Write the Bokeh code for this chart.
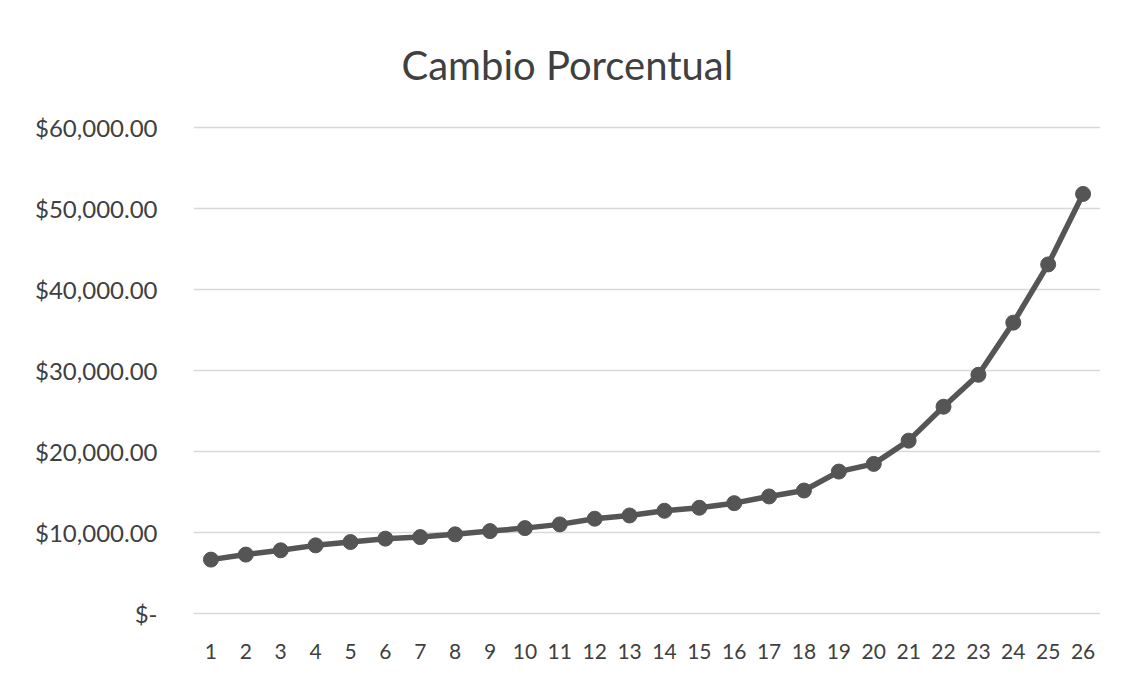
from bokeh.plotting import figure
from bokeh.models import ColumnDataSource, CustomJSTickFormatter, FixedTicker, Range1d
from bokeh.embed import file_html
from bokeh.resources import INLINE

periods = [str(i) for i in range(1, 27)]
values = [6650, 7270, 7800, 8410, 8820, 9240, 9430, 9770, 10170, 10540,
          11000, 11700, 12100, 12680, 13050, 13620, 14450, 15180, 17520, 18470,
          21340, 25530, 29470, 35910, 43100, 51800]
y_ticks = [0, 10000, 20000, 30000, 40000, 50000, 60000]
title_text = "Cambio Porcentual"

FONT = "Lato"
TXT = "#404040"

src = ColumnDataSource(dict(x=periods, y=values))

p = figure(width=1109, height=665, x_range=periods, y_range=Range1d(-250, 60250),
           output_backend="svg", toolbar_location=None,
           min_border_left=193, min_border_right=9, min_border_bottom=50, min_border_top=125)

p.title.text = title_text
p.title.align = "left"
p.title.offset = 208
p.title.standoff = 74
p.title.text_font = FONT
p.title.text_font_size = "40px"
p.title.text_font_style = "normal"
p.title.text_color = TXT

p.line("x", "y", source=src, line_color="#555555", line_width=5.5)
p.scatter("x", "y", source=src, size=15, fill_color="#555555", line_color="#555555")

p.outline_line_color = None
p.xgrid.grid_line_color = None
p.ygrid.grid_line_color = "#d9d9d9"
p.ygrid.grid_line_width = 1.5

p.yaxis.ticker = FixedTicker(ticks=y_ticks)
p.yaxis.formatter = CustomJSTickFormatter(code="""
if (tick == 0) return "$-";
return "$" + tick.toLocaleString("en-US", {minimumFractionDigits: 2, maximumFractionDigits: 2});
""")
for ax in (p.xaxis, p.yaxis):
    ax.axis_line_color = None
    ax.major_tick_line_color = None
    ax.minor_tick_line_color = None
    ax.major_label_text_font = FONT
    ax.major_label_text_color = TXT
p.yaxis.major_label_text_font_size = "24px"
p.xaxis.major_label_text_font_size = "21px"
p.yaxis.major_label_standoff = 30
p.xaxis.major_label_standoff = 22

open("out.html", "w").write(file_html(p, INLINE))
